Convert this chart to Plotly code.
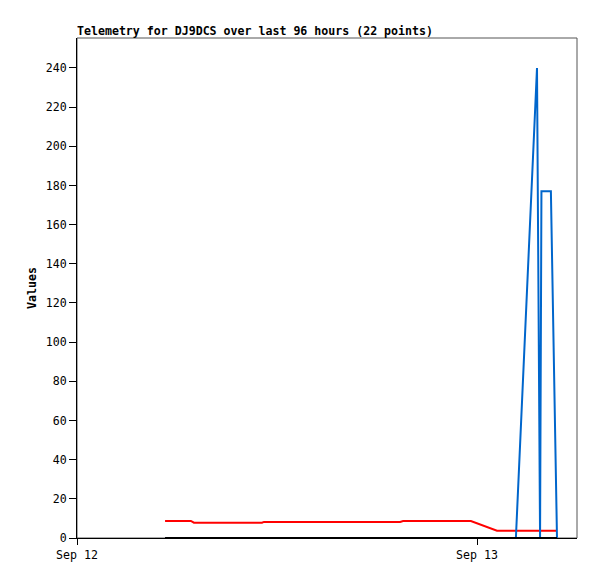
import plotly.graph_objects as go

# Shared timestamps (UTC) of the telemetry samples
times = [
    "2025-09-12 05:17", "2025-09-12 06:50", "2025-09-12 07:01",
    "2025-09-12 11:06", "2025-09-12 11:13", "2025-09-12 19:23",
    "2025-09-12 19:34", "2025-09-12 23:38", "2025-09-13 01:12",
    "2025-09-13 02:20", "2025-09-13 03:36", "2025-09-13 03:47",
    "2025-09-13 03:52", "2025-09-13 04:26", "2025-09-13 04:48",
]
red_values = [8.7, 8.7, 7.8, 7.8, 8.2, 8.2, 8.7, 8.7, 3.7, 3.7, 3.7, 3.7, 3.7, 3.7, 3.7]
blue_values = [0, 0, 0, 0, 0, 0, 0, 0, 0, 0, 240, 0, 177, 177, 0]
black_values = [0] * len(times)

x_range = ["2025-09-12 00:00", "2025-09-13 06:00"]
y_range = [0, 255.3]
y_ticks = [0, 20, 40, 60, 80, 100, 120, 140, 160, 180, 200, 220, 240]
x_tickvals = ["2025-09-12 00:00", "2025-09-13 00:00"]
x_ticktext = ["Sep 12", "Sep 13"]

FONT = "DejaVu Sans Mono"
W, H = 589, 571  # page body has an 8px margin

fig = go.Figure()
fig.add_trace(go.Scatter(x=times, y=red_values, mode="lines",
                         line=dict(color="#ff0000", width=2), showlegend=False))
fig.add_trace(go.Scatter(x=times, y=blue_values, mode="lines",
                         line=dict(color="#0066cc", width=2), showlegend=False))
fig.add_trace(go.Scatter(x=times, y=black_values, mode="lines",
                         line=dict(color="#000000", width=2), showlegend=False))

fig.update_layout(
    width=W, height=H,
    margin=dict(l=69, r=20, t=30, b=41),
    paper_bgcolor="white", plot_bgcolor="white",
    font=dict(family=FONT, size=11.6, color="#000000"),
    title=dict(text="<b>Telemetry for DJ9DCS over last 96 hours (22 points)</b>",
               x=69 / W, xanchor="left", y=1 - 23 / H, yanchor="middle",
               font=dict(family=FONT, size=11.6, color="#000000")),
    shapes=[dict(type="rect", xref="paper", yref="paper", x0=0, x1=1, y0=0, y1=1,
                 line=dict(color="#555555", width=1), layer="below")],
)
fig.update_xaxes(
    type="date", range=x_range, tickvals=x_tickvals, ticktext=x_ticktext,
    showgrid=False, zeroline=False, showline=True, linecolor="#000000", linewidth=1,
    ticks="outside", ticklen=6, tickcolor="#000000", tickwidth=1, automargin=False,
    tickfont=dict(family=FONT, size=11.6, color="#000000"),
)
fig.update_yaxes(
    range=y_range, tickvals=y_ticks,
    showgrid=False, zeroline=False, showline=True, linecolor="#000000", linewidth=1,
    ticks="outside", ticklen=7, tickcolor="#000000", tickwidth=1, automargin=False,
    tickfont=dict(family=FONT, size=11.6, color="#000000"),
    title=dict(text="<b>Values</b>", standoff=6,
               font=dict(family=FONT, size=11.6, color="#000000")),
)

fig.write_html("out.html")
